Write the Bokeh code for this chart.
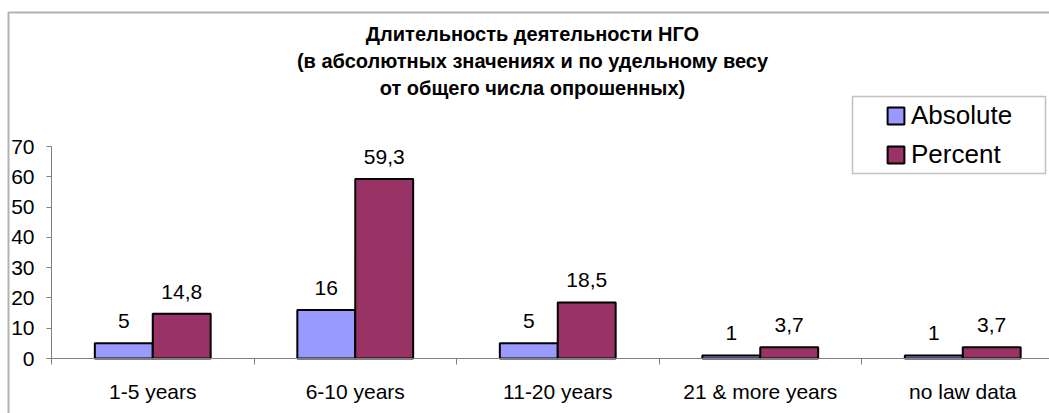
from bokeh.plotting import figure
from bokeh.models import (Range1d, FixedTicker, LinearAxis, Legend, LegendItem,
                          BoxAnnotation, Label, ColumnDataSource)
from bokeh.core.properties import value
from bokeh.embed import file_html
from bokeh.resources import INLINE

# ---- data ----
categories = ["1-5 years", "6-10 years", "11-20 years", "21 & more years", "no law data"]
absolute = [5, 16, 5, 1, 1]
percent = [14.8, 59.3, 18.5, 3.7, 3.7]
series_names = ["Absolute", "Percent"]
series_colors = ["#9999FF", "#993366"]
title_lines = ["Длительность деятельности НГО",
               "(в абсолютных значениях и по удельному весу",
               "от общего числа опрошенных)"]
y_ticks = [0, 10, 20, 30, 40, 50, 60, 70]

# ---- layout / style ----
FONT = "Liberation Sans"
W, H = 1049, 413
AX_X, AX_Y = 51, 358          # pixel position of the data origin
CAT_PX = 202.5                # pixels per category
Y_PX = 212 / 70               # pixels per y unit
BAR_W = 0.286
AXIS_GRAY = "#808080"
LABEL_SIZE = "21px"

centers = [i + 0.5 for i in range(len(categories))]


def fmt(v):
    return str(v).replace(".", ",")


src = ColumnDataSource(dict(
    x_abs=[c - BAR_W / 2 for c in centers],
    x_pct=[c + BAR_W / 2 for c in centers],
    absolute=absolute,
    percent=percent,
    lab_abs=[fmt(v) for v in absolute],
    lab_pct=[fmt(v) for v in percent],
))

p = figure(width=W, height=H, output_backend="svg", toolbar_location=None,
           x_range=Range1d(-AX_X / CAT_PX, (W - AX_X) / CAT_PX),
           y_range=Range1d(-(H - AX_Y) / Y_PX, AX_Y / Y_PX),
           min_border=0, x_axis_type=None, y_axis_type=None)
p.title.visible = False
p.outline_line_color = None
p.background_fill_color = "white"
p.border_fill_color = "white"

yaxis = LinearAxis(ticker=FixedTicker(ticks=y_ticks), fixed_location=0,
                   bounds=(0, 70),
                   axis_line_color=AXIS_GRAY, major_tick_line_color=AXIS_GRAY,
                   major_tick_out=5, major_tick_in=0, minor_tick_line_color=None,
                   major_label_text_font=FONT, major_label_text_font_size=LABEL_SIZE,
                   major_label_text_color="black", major_label_standoff=12)
p.add_layout(yaxis, "left")

xaxis = LinearAxis(ticker=FixedTicker(ticks=centers,
                                      minor_ticks=list(range(len(categories) + 1))),
                   fixed_location=0, bounds=(0, len(categories)),
                   major_label_overrides={c: cat for c, cat in zip(centers, categories)},
                   axis_line_color=AXIS_GRAY, major_tick_line_color=None,
                   major_tick_out=0, major_tick_in=0,
                   minor_tick_line_color=AXIS_GRAY, minor_tick_out=6, minor_tick_in=0,
                   major_label_text_font=FONT, major_label_text_font_size=LABEL_SIZE,
                   major_label_text_color="black", major_label_standoff=15)
p.add_layout(xaxis, "below")

r_abs = p.vbar(x="x_abs", top="absolute", bottom=0, width=BAR_W, source=src,
               fill_color=series_colors[0], line_color="black", line_width=2)
r_pct = p.vbar(x="x_pct", top="percent", bottom=0, width=BAR_W, source=src,
               fill_color=series_colors[1], line_color="black", line_width=2)

for xcol, ycol, tcol in (("x_abs", "absolute", "lab_abs"), ("x_pct", "percent", "lab_pct")):
    p.text(x=xcol, y=ycol, text=tcol, source=src, text_align="center",
           text_baseline="alphabetic", y_offset=-22, text_font=value(FONT),
           text_font_size=LABEL_SIZE, text_color="black")

# outer chart border (only top and left edges fall inside the picture)
p.add_layout(BoxAnnotation(left=8, right=1400, top=12, bottom=800,
                           left_units="canvas", right_units="canvas",
                           top_units="canvas", bottom_units="canvas",
                           fill_alpha=0, line_color="black", line_width=2))

# legend frame
p.add_layout(BoxAnnotation(left=852, right=1045, top=96, bottom=173,
                           left_units="canvas", right_units="canvas",
                           top_units="canvas", bottom_units="canvas",
                           fill_alpha=0, line_color="#333333", line_width=1.5))

legend = Legend(items=[LegendItem(label=series_names[0], renderers=[r_abs]),
                       LegendItem(label=series_names[1], renderers=[r_pct])],
                location=(885, H - 169.5), padding=0, margin=0, spacing=8,
                glyph_width=21, glyph_height=21, label_height=30, label_standoff=5,
                label_text_font=FONT, label_text_font_size="26px",
                label_text_color="black",
                border_line_color=None, background_fill_alpha=0)
p.add_layout(legend, "center")

for i, line in enumerate(title_lines):
    p.add_layout(Label(x=532, y=33 + 27 * i, x_units="canvas", y_units="canvas",
                       text=line, text_align="center", text_baseline="middle",
                       text_font=FONT, text_font_style="bold",
                       text_font_size="20px", text_color="black"))

open("out.html", "w").write(file_html(p, INLINE))
